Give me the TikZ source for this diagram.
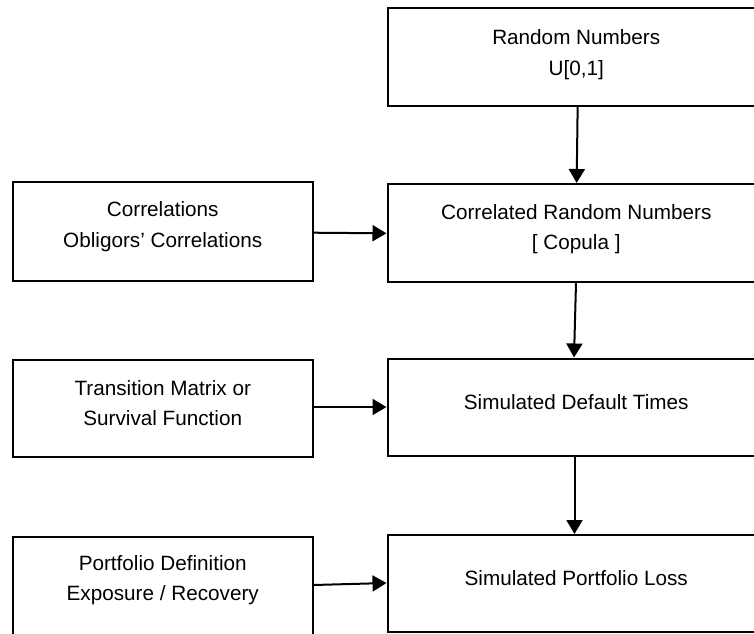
\documentclass[tikz,border=0pt]{standalone}
\usepackage{fontspec}
\setmainfont{Liberation Sans}
\usetikzlibrary{arrows.meta}
\begin{document}
\begin{tikzpicture}[x=1pt,y=-1pt,
  box/.style={draw=black, line width=2pt, inner sep=0pt, fill=white},
  rbox/.style={box, minimum width=377.5pt},
  lbox/.style={box, minimum width=299.5pt},
  txt/.style={align=center, inner sep=0pt, font=\fontsize{20.7pt}{30.5pt}\selectfont},
  conn/.style={line width=2pt, -{Triangle[width=16pt,length=14pt]}}]
\useasboundingbox (0,0) rectangle (754,633);
\clip (0,0) rectangle (754,633);
% right column
\node[rbox, minimum height=97.5pt] (rand) at (576.25,56.75) {};
\node[rbox, minimum height=98pt] (corr) at (576.25,233) {};
\node[rbox, minimum height=97.5pt] (def) at (576.25,407.25) {};
\node[rbox, minimum height=96.5pt] (loss) at (576.25,583.25) {};
% left column
\node[lbox, minimum height=98.7pt] (cl) at (162.75,231.6) {};
\node[lbox, minimum height=97pt] (tr) at (162.75,408.5) {};
\node[lbox, minimum height=102pt] (pd) at (162.75,588) {};
% texts
\node[txt] (randT) at ([yshift=2pt]rand.center) {Random Numbers\\U[0,1]};
\node[txt] (corrT) at ([yshift=4pt]corr.center) {Correlated Random Numbers\\{[} Copula ]};
\node[txt] (defT) at ([yshift=5pt]def.center) {Simulated Default Times};
\node[txt] (lossT) at ([yshift=5.25pt]loss.center) {Simulated Portfolio Loss};
\node[txt] (clT) at ([yshift=5pt]cl.center) {Correlations\\Obligors’ Correlations};
\node[txt] (trT) at ([yshift=5.5pt]tr.center) {Transition Matrix or\\Survival Function};
\node[txt] (pdT) at ([yshift=8pt]pd.center) {Portfolio Definition\\Exposure / Recovery};
% connectors
\draw[conn] ([xshift=1.4pt]rand.south) -- ([xshift=0.4pt]corr.north);
\draw[conn] ([xshift=-0.25pt]corr.south) -- ([xshift=-2.25pt]def.north);
\draw[conn] ([xshift=-1.75pt]def.south) -- ([xshift=-1.75pt]loss.north);
\draw[conn] ([yshift=-1.1pt]cl.east) -- ([yshift=-0.3pt]corr.west);
\draw[conn] ([yshift=1.5pt]tr.east) -- ([yshift=0.25pt]def.west);
\draw[conn] ([yshift=3pt]pd.east) -- ([yshift=0.25pt]loss.west);
\end{tikzpicture}
\end{document}
